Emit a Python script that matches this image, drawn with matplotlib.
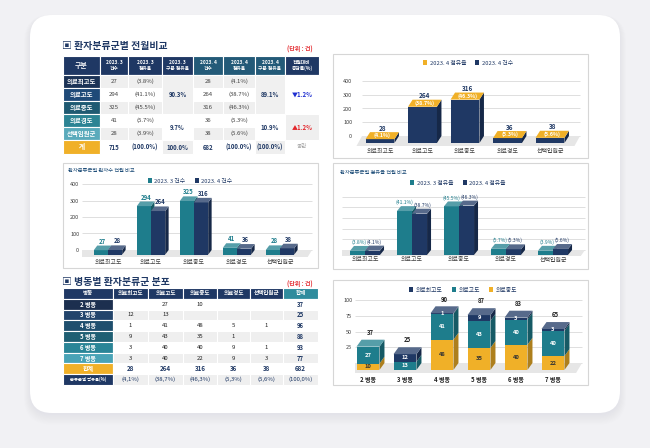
"""
Patient classification dashboard: two tables plus four 3D-style bar charts.
Saves out.png (650x448).
"""
import numpy as np
import matplotlib
matplotlib.use("Agg")
import matplotlib.pyplot as plt
from matplotlib.patches import Rectangle, Polygon, FancyBboxPatch, Patch
from matplotlib.colors import to_rgb

plt.rcParams['font.family'] = ['Noto Sans CJK KR', 'DejaVu Sans']

W, H = 650, 448

# ---- data ----
categories = ['의료최고도', '의료고도', '의료중도', '의료경도', '선택입원군']
mar_count = [27, 294, 325, 41, 28]
mar_share = [3.8, 41.1, 45.5, 5.7, 3.9]
apr_count = [28, 264, 316, 36, 38]
apr_share = [4.1, 38.7, 46.3, 5.3, 5.6]
mar_group_share = [90.3, 9.7]
apr_group_share = [89.1, 10.9]
group_change = ['▼1.2%', '▲1.2%']
mar_total = 715
apr_total = 682

wards = ['2 병동', '3 병동', '4 병동', '5 병동', '6 병동', '7 병동']
ward_top = [0, 12, 1, 9, 3, 3]      # 의료최고도
ward_high = [27, 13, 41, 43, 40, 40]  # 의료고도
ward_mid = [10, 0, 48, 35, 40, 22]   # 의료중도
ward_low = [0, 0, 5, 1, 9, 9]        # 의료경도
ward_sel = [0, 0, 1, 0, 1, 3]        # 선택입원군
ward_total = [37, 25, 96, 88, 93, 77]
class_total = [28, 264, 316, 36, 38, 682]
class_share = [4.1, 38.7, 46.3, 5.3, 5.6, 100.0]

NAVY = '#1f3864'
TEAL = '#1e7d8c'
GOLD = '#f0b028'
TXT = '#404040'
RED = '#e3262b'


def shade(c, f):
    r = np.array(to_rgb(c))
    if f > 1:
        return tuple(r + (1 - r) * (f - 1))
    return tuple(r * f)


fig = plt.figure(figsize=(W / 100, H / 100), dpi=100)
fig.patch.set_facecolor('#f1f1f4')
bg = fig.add_axes([0, 0, 1, 1])
bg.set_xlim(0, W)
bg.set_ylim(H, 0)
bg.axis('off')

# card with soft shadow
for k in range(7):
    bg.add_patch(FancyBboxPatch((30 - k, 17 - k * 0.4), 590 + 2 * k, 398 + 2 * k,
                                boxstyle='round,pad=0,rounding_size=%d' % (22 + k),
                                fc='#c8c8d0', ec='none', alpha=0.035))
bg.add_patch(FancyBboxPatch((30, 15), 590, 398, boxstyle='round,pad=0,rounding_size=22',
                            fc='white', ec='none'))


def cell(x0, y0, x1, y1, fc, text='', color=TXT, size=4.3, weight='normal'):
    bg.add_patch(Rectangle((x0, y0), x1 - x0, y1 - y0, fc=fc, ec='white', lw=0.8))
    if text:
        bg.text((x0 + x1) / 2, (y0 + y1) / 2, text, ha='center', va='center',
                fontsize=size, color=color, fontweight=weight, linespacing=1.05)


def pct(v):
    return '(%.1f%%)' % v


# ---- table 1 ----
bg.text(62, 46, '▣ 환자분류군별 전월비교', fontsize=7.1, fontweight='bold', color=NAVY,
        va='center')
bg.text(300, 49, '(단위 : 건)', fontsize=4.3, fontweight='bold', color=RED,
        ha='center', va='center')

cx = [63, 100, 128, 162, 193, 223, 255, 285, 319]
ry = [56, 75, 88, 101, 114, 127, 140, 154]
head1 = ['구분', '2023. 3\n건수', '2023. 3\n점유율', '2023. 3\n구분 점유율', '2023. 4\n건수',
         '2023. 4\n점유율', '2023. 4\n구분 점유율', '전월대비\n증감률(%)']
head1_fc = [NAVY, NAVY, NAVY, NAVY, '#235a78', '#235a78', '#235a78', NAVY]
for j, h in enumerate(head1):
    cell(cx[j], ry[0], cx[j + 1], ry[1], head1_fc[j], h, 'white',
         5 if j == 0 else 3.4, 'bold')

label_fc = ['#1c3356', '#1f4a78', '#1f5a72', '#2c8494', '#5aaabb']
for i, name in enumerate(categories):
    y0, y1 = ry[i + 1], ry[i + 2]
    fc = '#efefef' if i % 2 == 0 else 'white'
    cell(cx[0], y0, cx[1], y1, label_fc[i], name, 'white', 4.6, 'bold')
    cell(cx[1], y0, cx[2], y1, fc, str(mar_count[i]))
    cell(cx[2], y0, cx[3], y1, fc, pct(mar_share[i]))
    cell(cx[4], y0, cx[5], y1, fc, str(apr_count[i]))
    cell(cx[5], y0, cx[6], y1, fc, pct(apr_share[i]))

spans = [(1, 4), (4, 6)]
for g, (a, b) in enumerate(spans):
    fc_g = '#f0f0f0' if g == 0 else 'white'
    cell(cx[3], ry[a], cx[4], ry[b], fc_g, '%.1f%%' % mar_group_share[g], NAVY, 4.3, 'bold')
    cell(cx[6], ry[a], cx[7], ry[b], fc_g, '%.1f%%' % apr_group_share[g], NAVY, 4.3, 'bold')
    cell(cx[7], ry[a], cx[8], ry[b], 'white' if g == 0 else '#efefef', group_change[g],
         '#1f2fd0' if g == 0 else RED, 4.3, 'bold')

y0, y1 = ry[6], ry[7]
cell(cx[0], y0, cx[1], y1, GOLD, '계', 'white', 4.8, 'bold')
total_row = [str(mar_total), pct(100.0), '100.0%', str(apr_total), pct(100.0), pct(100.0)]
for j, t in enumerate(total_row):
    fc = '#efefef' if j in (2, 5) else 'white'
    cell(cx[j + 1], y0, cx[j + 2], y1, fc, t, NAVY, 4.3, 'bold')
cell(cx[7], y0, cx[8], y1, 'white', '공란', '#a0a0a0', 4.0)

# ---- table 2 ----
bg.text(62, 282, '▣ 병동별 환자분류군 분포', fontsize=7.1, fontweight='bold', color=NAVY,
        va='center')
bg.text(300, 284, '(단위 : 건)', fontsize=4.3, fontweight='bold', color=RED,
        ha='center', va='center')

cx2 = [63, 113, 148, 183, 217, 250, 283, 318]
ry2 = np.linspace(288, 385, 10)
head2 = ['병동'] + categories + ['합계']
for j, h in enumerate(head2):
    cell(cx2[j], ry2[0], cx2[j + 1], ry2[1], '#2f8c9d' if j == 6 else NAVY, h, 'white',
         4.0, 'bold')

ward_fc = ['#1c2f4f', '#23456c', '#1f4f6e', '#1f5f73', '#2a8597', '#49a3b6']
ward_cols = [ward_top, ward_high, ward_mid, ward_low, ward_sel]
for i, w in enumerate(wards):
    y0, y1 = ry2[i + 1], ry2[i + 2]
    fc = 'white' if i % 2 == 0 else '#efefef'
    cell(cx2[0], y0, cx2[1], y1, ward_fc[i], w, 'white', 4.3, 'bold')
    for j, col in enumerate(ward_cols):
        v = col[i]
        cell(cx2[j + 1], y0, cx2[j + 2], y1, fc, str(v) if v else '', '#222222', 4.3)
    cell(cx2[6], y0, cx2[7], y1, fc, str(ward_total[i]), NAVY, 4.3, 'bold')

y0, y1 = ry2[7], ry2[8]
cell(cx2[0], y0, cx2[1], y1, GOLD, '합계', 'white', 4.3, 'bold')
for j, v in enumerate(class_total):
    cell(cx2[j + 1], y0, cx2[j + 2], y1, 'white', str(v), NAVY, 4.5, 'bold')
y0, y1 = ry2[8], ry2[9]
cell(cx2[0], y0, cx2[1], y1, NAVY, '분류군별 점유율(%)', 'white', 3.1, 'bold')
for j, v in enumerate(class_share):
    cell(cx2[j + 1], y0, cx2[j + 2], y1, '#efefef', pct(v).replace('.', ','), NAVY, 4.3)


# ---- chart helpers ----
def panel(l, t, r, b):
    bg.add_patch(Rectangle((l, t), r - l, b - t, fc='white', ec='#d6d6d6', lw=0.8))


def chart_ax(box, x0, xstep, y0, ystep):
    l, t, r, b = box
    ax = fig.add_axes([l / W, 1 - b / H, (r - l) / W, (b - t) / H])
    ax.set_xlim((l - x0) / xstep, (r - x0) / xstep)
    ax.set_ylim((y0 - b) / ystep, (y0 - t) / ystep)
    ax.set_facecolor('none')
    for s in ax.spines.values():
        s.set_visible(False)
    ax.tick_params(length=0, labelsize=4, labelcolor=TXT, pad=2)
    return ax


def floor_and_grid(ax, gx0, gx1, grid, fdx):
    yb = ax.get_ylim()[0]
    gx0 = (gx0 - ax_x0[ax]) / ax_xs[ax]
    gx1 = (gx1 - ax_x0[ax]) / ax_xs[ax]
    ax.hlines(grid, gx0, gx1, color='#d9d9d9', lw=0.6, zorder=1)
    ax.add_patch(Polygon([(gx0 - fdx, yb), (gx1 - fdx, yb), (gx1, 0), (gx0, 0)],
                         fc='#e6e6e6', ec='none', zorder=1))


def bar3d(ax, x, bottom, top, w, dx, dy, color, topc=None, draw_top=True):
    xl, xr = x - w / 2, x + w / 2
    b, t = bottom - dy, top - dy
    ax.add_patch(Rectangle((xl, b), w, t - b, fc=color, ec='none', zorder=3))
    ax.add_patch(Polygon([(xr, b), (xr + dx, b + dy), (xr + dx, t + dy), (xr, t)],
                         fc=shade(color, 0.72), ec='none', zorder=3))
    if draw_top:
        ax.add_patch(Polygon([(xl, t), (xr, t), (xr + dx, t + dy), (xl + dx, t + dy)],
                             fc=topc or shade(color, 1.25), ec='none', zorder=3))


def legend_at(handles, cx, cy):
    fig.legend(handles=handles, loc='center', bbox_to_anchor=(cx / W, 1 - cy / H),
               ncol=len(handles), frameon=False, fontsize=4.2, handlelength=0.7,
               handleheight=0.7, handletextpad=0.4, columnspacing=1.6, labelcolor=NAVY)


ax_x0, ax_xs = {}, {}
xpos = np.arange(len(categories))

# ---- chart A: April count with share on top ----
panel(333, 54, 588, 158)
axA = chart_ax((355, 70, 585, 146), 380, 42.5, 136, 0.1375)
ax_x0[axA], ax_xs[axA] = 380, 42.5
floor_and_grid(axA, 362, 580, [0, 100, 200, 300, 400], 0.13)
dxA, dyA = 0.106, 51
for i in xpos:
    bar3d(axA, i, 0, apr_count[i], 0.68, dxA, dyA, NAVY, topc=GOLD)
    axA.text(i + dxA / 2, apr_count[i] + 4, str(apr_count[i]), ha='center', va='bottom',
             fontsize=4.6, color=NAVY, fontweight='bold', zorder=5)
    axA.text(i + dxA / 2, apr_count[i] - dyA / 2, pct(apr_share[i]), ha='center',
             va='center', fontsize=3.8, color='white', fontweight='bold', zorder=5)
axA.set_yticks([0, 100, 200, 300, 400])
axA.set_xticks(xpos)
axA.set_xticklabels(categories, fontsize=4.3)
legend_at([Patch(fc=GOLD, label='2023. 4 점유율'), Patch(fc=NAVY, label='2023. 4 건수')],
          468, 63)

# ---- chart B: count by month ----
panel(63, 163, 318, 268)
bg.text(68, 170, '환자분류군별 환자수 전월 비교', fontsize=3.8, color='#1f4e79', va='center')
axB = chart_ax((82, 176, 316, 257), 108, 43, 250, 0.165)
ax_x0[axB], ax_xs[axB] = 108, 43
floor_and_grid(axB, 82, 312, [0, 100, 200, 300, 400], 0.1)
dxB, dyB, wB = 0.08, 28, 0.33
for i in xpos:
    bar3d(axB, i - wB / 2, 0, mar_count[i], wB, dxB, dyB, TEAL)
    bar3d(axB, i + wB / 2, 0, apr_count[i], wB, dxB, dyB, NAVY)
    axB.text(i - wB / 2 + dxB / 2, mar_count[i] + 6, str(mar_count[i]), ha='center',
             va='bottom', fontsize=4.3, color=TEAL, fontweight='bold', zorder=5)
    axB.text(i + wB / 2 + dxB / 2, apr_count[i] + 6, str(apr_count[i]), ha='center',
             va='bottom', fontsize=4.3, color=NAVY, fontweight='bold', zorder=5)
axB.set_yticks([0, 100, 200, 300, 400])
axB.set_xticks(xpos)
axB.set_xticklabels(categories, fontsize=4.3)
legend_at([Patch(fc=TEAL, label='2023. 3 건수'), Patch(fc=NAVY, label='2023. 4 건수')],
          190, 181)

# ---- chart C: share by month ----
panel(333, 163, 588, 269)
bg.text(340, 172, '환자분류군별 점유율 전월 비교', fontsize=3.8, color='#1f4e79', va='center')
axC = chart_ax((342, 186, 586, 256), 365, 47, 250, 1.067)
ax_x0[axC], ax_xs[axC] = 365, 47
floor_and_grid(axC, 342, 585, [0, 10, 20, 30, 40, 50], 0.09)
dxC, dyC, wC = 0.085, 4.6, 0.32
for i in xpos:
    bar3d(axC, i - wC / 2, 0, mar_share[i], wC, dxC, dyC, TEAL)
    bar3d(axC, i + wC / 2, 0, apr_share[i], wC, dxC, dyC, NAVY)
    axC.text(i + 0.03, mar_share[i] + 0.8, pct(mar_share[i]), ha='right',
             va='bottom', fontsize=3.6, color=TEAL, zorder=5)
    axC.text(i + 0.03, apr_share[i] + 0.8, pct(apr_share[i]), ha='left',
             va='bottom', fontsize=3.6, color=NAVY, zorder=5)
axC.set_yticks([])
axC.set_xticks(xpos)
axC.set_xticklabels(categories, fontsize=4.3)
axC.tick_params(axis='x', pad=1)
legend_at([Patch(fc=TEAL, label='2023. 3 점유율'), Patch(fc=NAVY, label='2023. 4 점유율')],
          458, 183)

# ---- chart D: stacked by ward ----
panel(333, 280, 588, 385)
axD = chart_ax((355, 292, 584, 373), 368, 37, 363, 0.63)
ax_x0[axD], ax_xs[axD] = 368, 37
floor_and_grid(axD, 355, 582, [0, 25, 50, 75, 100], 0.16)
dxD, dyD, wD = 0.135, 11, 0.62
wpos = np.arange(len(wards))
stack = [(ward_mid, GOLD, '#333333'), (ward_high, TEAL, 'white'), (ward_top, NAVY, 'white')]
for i in wpos:
    base = 0
    segs = [(s[0][i], s[1], s[2]) for s in stack if s[0][i] > 0]
    for k, (v, c, tc) in enumerate(segs):
        bar3d(axD, i, base, base + v, wD, dxD, dyD, c, draw_top=(k == len(segs) - 1))
        axD.text(i, base + v / 2 - dyD, str(v), ha='center', va='center', fontsize=4.2,
                 color=tc, fontweight='bold', zorder=5)
        base += v
    axD.text(i + dxD / 2, base + 6, str(base), ha='center', va='bottom', fontsize=4.3,
             color='#222222', fontweight='bold', zorder=5)
axD.set_yticks([25, 50, 75, 100])
axD.set_xticks(wpos)
axD.set_xticklabels(wards, fontsize=4.3, fontweight='bold')
axD.tick_params(axis='x', labelcolor='#222222')
legend_at([Patch(fc=NAVY, label='의료최고도'), Patch(fc=TEAL, label='의료고도'),
           Patch(fc=GOLD, label='의료중도')], 463, 290)

fig.savefig('out.png', dpi=100)
